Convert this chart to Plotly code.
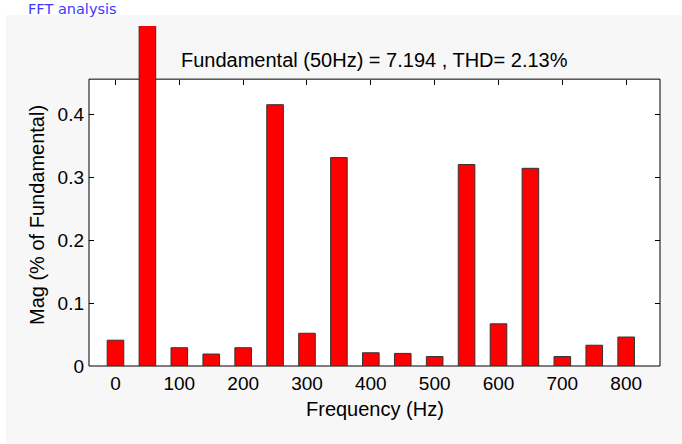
import plotly.graph_objects as go

freqs = [0, 50, 100, 150, 200, 250, 300, 350, 400, 450, 500, 550, 600, 650, 700, 750, 800]
mags = [0.041, 100.0, 0.029, 0.019, 0.029, 0.415, 0.052, 0.331, 0.021, 0.020, 0.015,
        0.320, 0.067, 0.314, 0.015, 0.033, 0.046]
x_ticks = [0, 100, 200, 300, 400, 500, 600, 700, 800]
y_ticks = [0, 0.1, 0.2, 0.3, 0.4]

W, H = 682, 444
L, R, T, B = 89, 660, 26, 366  # plot area in px
x_range = [-41.5, 853]
y_top_frame = 0.4556
y_range = [0, 0.540]

def px_x(px):
    return (px - L) / (R - L)

def px_y(py):
    return (B - py) / (B - T)

FONT = "Arial, Liberation Sans, sans-serif"

fig = go.Figure()
fig.add_trace(go.Bar(
    x=freqs, y=mags, width=26,
    marker=dict(color="#ff0000", line=dict(color="#333333", width=1)),
    hoverinfo="skip", showlegend=False,
))
fig.add_trace(go.Scatter(x=[None], y=[None], xaxis="x2", yaxis="y2",
                         mode="markers", showlegend=False, hoverinfo="skip"))

frame_top = y_top_frame / y_range[1]

fig.update_layout(
    width=W, height=H,
    margin=dict(l=L, r=W - R, t=T, b=H - B, pad=0),
    paper_bgcolor="white",
    plot_bgcolor="rgba(0,0,0,0)",
    font=dict(family=FONT, size=19, color="black"),
    xaxis=dict(range=x_range, tickvals=x_ticks, ticks="", showline=False,
               showgrid=False, zeroline=False, ticklabelstandoff=4,
               tickfont=dict(size=19)),
    yaxis=dict(range=y_range, tickvals=y_ticks, ticktext=["0", "0.1", "0.2", "0.3", "0.4"],
               ticks="inside", ticklen=5, tickcolor="black", showline=False,
               showgrid=False, zeroline=False, ticklabelstandoff=4,
               tickfont=dict(size=19)),
    xaxis2=dict(range=x_range, tickvals=x_ticks, ticks="inside", ticklen=5,
                tickcolor="black", overlaying="x", anchor="free",
                position=frame_top, side="top", showticklabels=False,
                showgrid=False, zeroline=False, showline=False),
    yaxis2=dict(range=y_range, tickvals=y_ticks, ticks="inside", ticklen=5,
                tickcolor="black", overlaying="y", side="right",
                showticklabels=False, showgrid=False, zeroline=False, showline=False),
    shapes=[
        dict(type="rect", xref="paper", yref="paper",
             x0=px_x(6), x1=px_x(W + 5), y0=px_y(H + 5), y1=px_y(15),
             fillcolor="#f7f7f7", line=dict(width=0), layer="below"),
        dict(type="rect", xref="paper", yref="paper",
             x0=0, x1=1, y0=0, y1=frame_top,
             fillcolor="white", line=dict(color="black", width=1), layer="below"),
    ],
    annotations=[
        dict(text="Fundamental (50Hz) = 7.194 , THD= 2.13%", xref="paper", yref="paper",
             x=0.5, y=px_y(60), xanchor="center", yanchor="middle", showarrow=False,
             font=dict(family=FONT, size=20, color="black")),
        dict(text="FFT analysis", xref="paper", yref="paper",
             x=px_x(26), y=px_y(9), xanchor="left", yanchor="middle", showarrow=False,
             font=dict(family="DejaVu Sans, sans-serif", size=14.5, color="#3a3aff")),
        dict(text="Frequency (Hz)", xref="paper", yref="paper",
             x=0.5, y=px_y(409), xanchor="center", yanchor="middle", showarrow=False,
             font=dict(family=FONT, size=20, color="black")),
        dict(text="Mag (% of Fundamental)", xref="paper", yref="paper",
             x=px_x(37), y=px_y(215), xanchor="center", yanchor="middle", showarrow=False,
             textangle=-90, font=dict(family=FONT, size=20, color="black")),
    ],
)

fig.write_html("out.html")
